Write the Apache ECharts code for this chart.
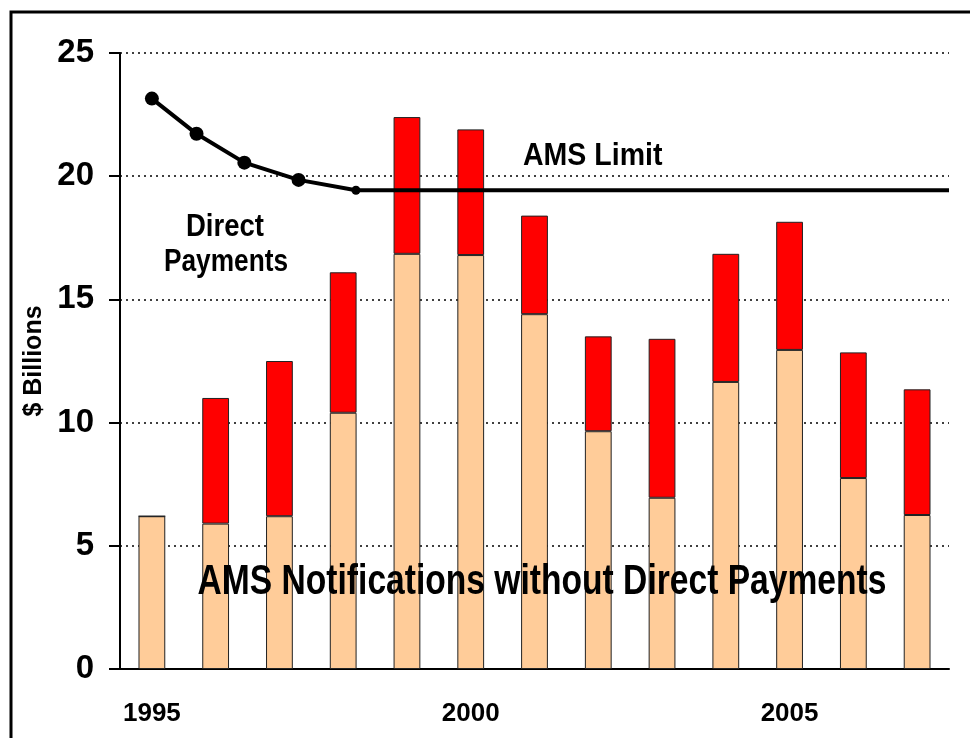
<!DOCTYPE html>
<html>
<head>
<meta charset="utf-8">
<script src="https://cdn.jsdelivr.net/npm/echarts@6/dist/echarts.min.js"></script>
<style>
  html, body { margin: 0; padding: 0; background: #fff; }
  #chart { width: 970px; height: 738px; }
</style>
</head>
<body>
<div id="chart"></div>
<script>
const years = ['1995', '1996', '1997', '1998', '1999', '2000', '2001', '2002', '2003', '2004', '2005', '2006', '2007']
// AMS without direct payments
const amsBase = [6.2, 5.9, 6.2, 10.4, 16.85, 16.8, 14.4, 9.65, 6.95, 11.65, 12.95, 7.75, 6.25]
// direct payments (stacked on top)
const directPay = [0, 5.1, 6.3, 5.7, 5.55, 5.1, 4.0, 3.85, 6.45, 5.2, 5.2, 5.1, 5.1]
// AMS limit line: [year position, value]
const limitYears = [1995, 1995.7, 1996.45, 1997.3, 1998.2, 2007.5]
const limitValues = [23.15, 21.72, 20.55, 19.85, 19.43, 19.43]
const limitMarkers = [14, 14, 14, 14, 9, 0]

const font = '"Liberation Sans", Arial, sans-serif'
const chart = echarts.init(document.getElementById('chart'))

chart.setOption({
  animation: false,
  grid: { left: 120, right: 21, top: 53, bottom: 69 },
  xAxis: [
    {
      type: 'category',
      data: years,
      axisLine: { lineStyle: { color: '#000', width: 2 } },
      axisTick: { interval: 0, length: 8, lineStyle: { color: '#000', width: 1.5 } },
      axisLabel: {
        interval: 4,
        margin: 32,
        color: '#000',
        fontFamily: font,
        fontWeight: 'bold',
        fontSize: 26
      }
    },
    {
      type: 'value',
      min: 1994.5,
      max: 2007.5,
      show: false
    }
  ],
  yAxis: {
    type: 'value',
    min: 0,
    max: 25,
    interval: 5,
    name: '$ Billions',
    nameLocation: 'middle',
    nameGap: 68,
    nameTextStyle: { color: '#000', fontFamily: font, fontWeight: 'bold', fontSize: 25 },
    axisLine: { show: true, lineStyle: { color: '#000', width: 2 } },
    axisTick: { show: true, length: 11, lineStyle: { color: '#000', width: 2 } },
    axisLabel: { margin: 26, color: '#000', fontFamily: font, fontWeight: 'bold', fontSize: 33 },
    splitLine: { lineStyle: { color: '#000', width: 1.5, type: [2, 4] } }
  },
  series: [
    {
      type: 'bar',
      stack: 'ams',
      data: amsBase,
      barWidth: '42%',
      itemStyle: { color: '#FFCC99', borderColor: '#222', borderWidth: 1 }
    },
    {
      type: 'bar',
      stack: 'ams',
      data: directPay,
      barWidth: '42%',
      itemStyle: { color: '#FF0000', borderColor: '#222', borderWidth: 1 }
    },
    {
      type: 'line',
      xAxisIndex: 1,
      data: limitYears.map((y, i) => ({ value: [y, limitValues[i]], symbolSize: limitMarkers[i] })),
      symbol: 'circle',
      lineStyle: { color: '#000', width: 4 },
      itemStyle: { color: '#000' },
      z: 5
    }
  ],
  graphic: [
    {
      type: 'rect',
      shape: { x: 11, y: 12, width: 980, height: 760 },
      style: { fill: 'none', stroke: '#000', lineWidth: 3 },
      silent: true
    },
    {
      type: 'text',
      x: 523, y: 156, z: 10, scaleX: 0.92,
      style: { text: 'AMS Limit', fill: '#000', font: 'bold 31px ' + font, verticalAlign: 'middle' }
    },
    {
      type: 'text',
      x: 225, y: 227, z: 10, scaleX: 0.86,
      style: { text: 'Direct', fill: '#000', font: 'bold 32px ' + font, align: 'center', verticalAlign: 'middle' }
    },
    {
      type: 'text',
      x: 226, y: 262, z: 10, scaleX: 0.82,
      style: { text: 'Payments', fill: '#000', font: 'bold 32px ' + font, align: 'center', verticalAlign: 'middle' }
    },
    {
      type: 'text',
      x: 542, y: 582, z: 10, scaleX: 0.8,
      style: {
        text: 'AMS Notifications without Direct Payments', fill: '#000',
        font: 'bold 42px ' + font, align: 'center', verticalAlign: 'middle'
      }
    }
  ]
})
</script>
</body>
</html>
